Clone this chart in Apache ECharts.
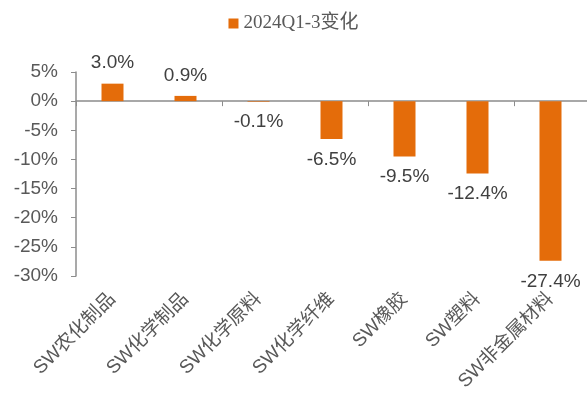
<!DOCTYPE html>
<html>
<head>
<meta charset="utf-8">
<script src="https://cdn.jsdelivr.net/npm/echarts@6/dist/echarts.min.js"></script>
<style>
  html, body { margin: 0; padding: 0; background: #fff; }
  #content { width: 587px; height: 401px; }
</style>
</head>
<body>
<div id="content"></div>
<script>
var categories = ['SW农化制品', 'SW化学制品', 'SW化学原料', 'SW化学纤维', 'SW橡胶', 'SW塑料', 'SW非金属材料'];
var changeValues = [3.0, 0.9, -0.1, -6.5, -9.5, -12.4, -27.4];
var seriesName = '2024Q1-3变化';

var barData = changeValues.map(function (v) {
    return {
        value: v,
        label: { position: v >= 0 ? 'top' : 'bottom' }
    };
});

var myChart = echarts.init(document.getElementById('content'));
myChart.setOption({
    textStyle: { fontFamily: 'Liberation Sans, Noto Sans CJK SC, sans-serif' },
    legend: {
        top: 9,
        left: 'center',
        itemWidth: 10,
        itemHeight: 10,
        icon: 'rect',
        itemGap: 4,
        textStyle: {
            fontFamily: 'Liberation Serif, Noto Sans CJK SC, serif',
            fontSize: 19,
            color: '#595959'
        },
        data: [seriesName]
    },
    grid: {
        left: 76,
        right: 0,
        top: 72,
        bottom: 125,
        containLabel: false
    },
    xAxis: [
        {
            type: 'category',
            data: categories,
            axisLine: { onZero: true, lineStyle: { color: '#8c8c8c', width: 1.5 } },
            axisTick: { show: true, length: 5, lineStyle: { color: '#8c8c8c' } },
            axisLabel: { show: false }
        },
        {
            type: 'category',
            position: 'bottom',
            data: categories,
            axisLine: { show: false },
            axisTick: { show: false },
            axisLabel: {
                rotate: 45,
                margin: 20,
                fontSize: 19,
                color: '#595959',
                interval: 0
            }
        }
    ],
    yAxis: {
        type: 'value',
        min: -30,
        max: 5,
        interval: 5,
        splitLine: { show: false },
        axisLine: { show: true, lineStyle: { color: '#8c8c8c', width: 1.5 } },
        axisTick: { show: true, length: 5, lineStyle: { color: '#8c8c8c' } },
        axisLabel: {
            formatter: '{value}%',
            fontSize: 19,
            color: '#595959',
            margin: 18
        }
    },
    series: [
        {
            name: seriesName,
            type: 'bar',
            xAxisIndex: 0,
            barWidth: 22,
            itemStyle: { color: '#E46C0A' },
            label: {
                show: true,
                distance: 11,
                fontSize: 19,
                color: '#404040',
                formatter: function (p) { return p.value.toFixed(1) + '%'; }
            },
            data: barData
        }
    ]
});
</script>
</body>
</html>
